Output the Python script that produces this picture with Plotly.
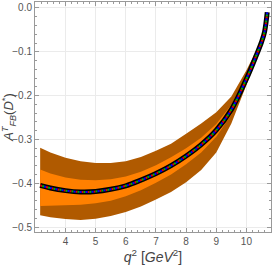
import plotly.graph_objects as go

q2 = [3.16, 3.5, 4.0, 4.5, 5.0, 5.5, 6.0, 6.5, 7.0, 7.5, 8.0, 8.5, 9.0, 9.5, 10.0, 10.3, 10.5, 10.6, 10.69]
central = [-0.405, -0.411, -0.417, -0.420, -0.419, -0.414, -0.406, -0.393, -0.378, -0.360, -0.338, -0.312,
           -0.279, -0.232, -0.162, -0.113, -0.078, -0.055, -0.010]
outer_up = [-0.319, -0.330, -0.342, -0.350, -0.354, -0.354, -0.350, -0.340, -0.326, -0.310, -0.287, -0.264,
            -0.238, -0.202, -0.142, -0.101, -0.069, -0.048, -0.008]
outer_lo = [-0.473, -0.478, -0.482, -0.484, -0.481, -0.475, -0.466, -0.453, -0.437, -0.420, -0.398, -0.370,
            -0.330, -0.264, -0.176, -0.123, -0.084, -0.060, -0.012]
inner_up = [-0.369, -0.378, -0.387, -0.392, -0.393, -0.391, -0.385, -0.374, -0.359, -0.341, -0.320, -0.296,
            -0.265, -0.221, -0.154, -0.107, -0.074, -0.052, -0.009]
inner_lo = [-0.452, -0.451, -0.450, -0.449, -0.446, -0.440, -0.430, -0.416, -0.399, -0.380, -0.357, -0.330,
            -0.294, -0.244, -0.171, -0.119, -0.082, -0.058, -0.011]

xticks = [4, 5, 6, 7, 8, 9, 10]
yticks = [0.0, -0.1, -0.2, -0.3, -0.4, -0.5]
ytick_text = ["0.0", "\u22120.1", "\u22120.2", "\u22120.3", "\u22120.4", "\u22120.5"]

fig = go.Figure()
fig.add_trace(go.Scatter(x=q2 + q2[::-1], y=outer_up + outer_lo[::-1], fill="toself",
                         fillcolor="#B05A00", line=dict(width=0), mode="lines", showlegend=False))
fig.add_trace(go.Scatter(x=q2 + q2[::-1], y=inner_up + inner_lo[::-1], fill="toself",
                         fillcolor="#FF8000", line=dict(width=0), mode="lines", showlegend=False))
fig.add_trace(go.Scatter(x=q2, y=central, mode="lines", line=dict(color="black", width=5, shape="spline"),
                         showlegend=False))
for col, dash in [("#E00000", "2px,4px"), ("#00B000", "0px,2px,2px,2px"), ("#0000FF", "0px,4px,2px,0px")]:
    fig.add_trace(go.Scatter(x=q2, y=central, mode="lines",
                             line=dict(color=col, width=2, dash=dash, shape="spline"), showlegend=False))

font_family = "Liberation Sans Narrow, Liberation Sans, Arial"
axis_common = dict(showline=True, linecolor="#999999", linewidth=1, mirror="ticks", ticks="inside",
                   ticklen=4, tickcolor="#999999", showgrid=True, gridcolor="#EBEBEB", gridwidth=1,
                   zeroline=False, tickfont=dict(family=font_family, size=10, color="#555555"),
                   minor=dict(ticks="inside", ticklen=2, tickcolor="#999999", showgrid=False))

fig.update_xaxes(range=[2.989, 10.815], tickvals=xticks, ticktext=[str(v) for v in xticks],
                 minor_dtick=0.2,
                 title=dict(text="<i>q</i><sup>2</sup> [<i>GeV</i><sup>2</sup>]",
                            font=dict(family=font_family, size=14, color="#444444"), standoff=6),
                 **axis_common)
fig.update_yaxes(range=[-0.5114, 0.0136], tickvals=yticks, ticktext=ytick_text, minor_dtick=0.02,
                 title=dict(text="<i>A</i><sup><i>T</i></sup><sub><i>FB</i></sub>(<i>D</i><sup>*</sup>)",
                            font=dict(family=font_family, size=13, color="#444444"), standoff=2),
                 **axis_common)

fig.update_layout(width=273, height=273, margin=dict(l=32, r=1, t=1, b=41),
                  paper_bgcolor="white", plot_bgcolor="white")
fig.write_html("out.html", config={"displayModeBar": False, "staticPlot": True},
               post_script="document.body.style.margin='0px';")
